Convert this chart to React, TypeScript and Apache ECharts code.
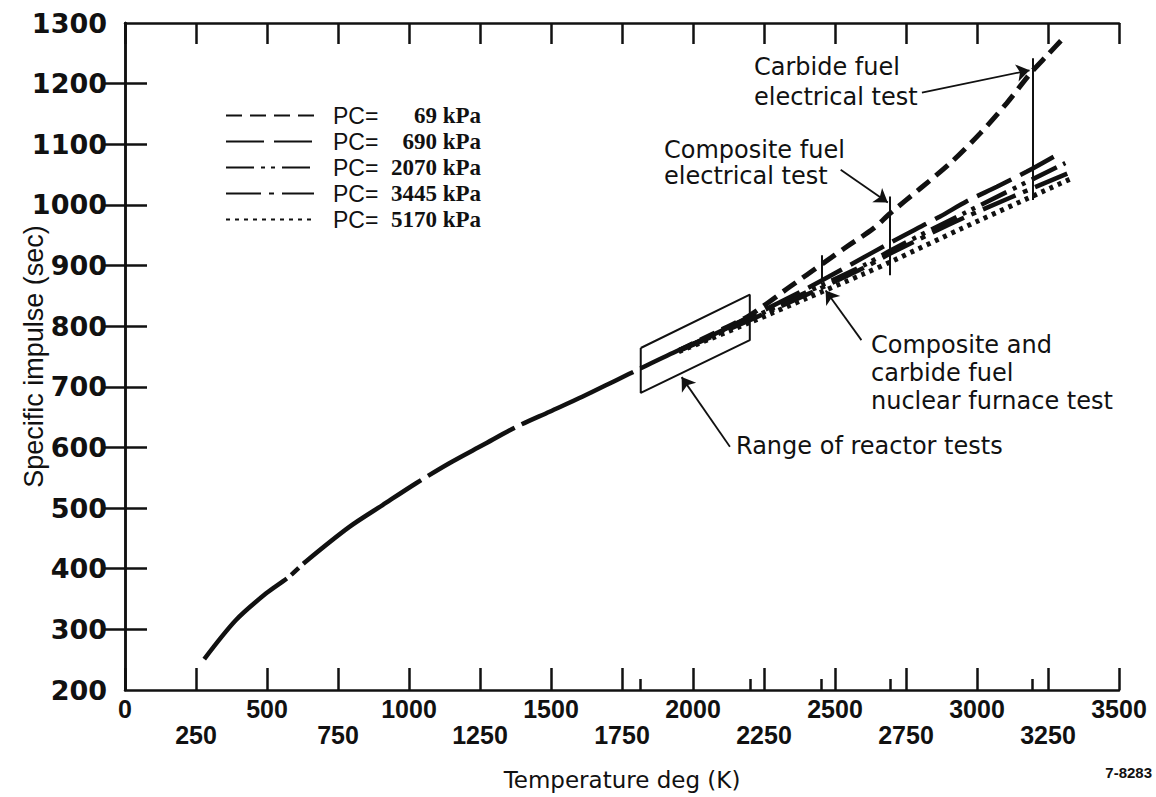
import React, { useEffect, useRef } from "react";
import * as echarts from "echarts";

// ---- axis ranges / ticks ----
const X_MIN = 0;
const X_MAX = 3500;
const X_STEP = 250;
const Y_MIN = 200;
const Y_MAX = 1300;
const Y_STEP = 100;
const yTickValues = [300, 400, 500, 600, 700, 800, 900, 1000, 1100, 1200];
// temperatures of the tests, marked with short ticks on the bottom axis
const testTemps = [1816, 2200, 2453, 2694, 3195];

// ---- data (Temperature K, Specific impulse s) ----
const baseCurve: [number, number][] = [
  [279, 251], [390, 315], [496, 359], [578, 387], [637, 412], [790, 469],
  [907, 505], [1025, 541], [1142, 574], [1260, 604], [1378, 634], [1495, 659],
  [1612, 684], [1730, 711], [1818, 731], [1953, 761], [2059, 783], [2189, 813],
];
const pc69: [number, number][] = [
  [1950, 760], [2100, 794], [2200, 818], [2341, 865], [2459, 904], [2541, 931],
  [2635, 961], [2694, 986], [2800, 1027], [2906, 1069], [3011, 1118],
  [3105, 1168], [3190, 1218], [3250, 1248], [3310, 1278],
];
const pc690: [number, number][] = [
  [1950, 760], [2200, 815], [2400, 862], [2553, 901], [2700, 939],
  [2870, 981], [2964, 1006], [3070, 1030], [3176, 1055], [3287, 1084],
];
const pc2070: [number, number][] = [
  [1950, 760], [2200, 812], [2400, 856], [2600, 900], [2700, 926],
  [2953, 986], [3311, 1069],
];
const pc3445: [number, number][] = [
  [1950, 759], [2200, 810], [2400, 852], [2600, 896], [2700, 921],
  [2950, 978], [3335, 1055],
];
const pc5170: [number, number][] = [
  [1950, 758], [2200, 806], [2400, 846], [2600, 886], [2700, 907],
  [2950, 962], [3335, 1044],
];
const pcNames = ["69", "690", "2070", "3445", "5170"];
const pcData = [pc69, pc690, pc2070, pc3445, pc5170];

// range of reactor tests (parallelogram)
const reactorBox: [number, number][] = [
  [1816, 764], [2200, 852], [2200, 777], [1816, 690], [1816, 764],
];
// vertical test bars [T, Isp low, Isp high]
const testBars: [number, number, number][] = [
  [2453, 876, 917],
  [2694, 884, 1014],
  [3195, 1008, 1242],
];
// arrows: from -> to (data coords)
const arrows: [[number, number], [number, number]][] = [
  [[2806, 1185], [3185, 1222]],
  [[2520, 1058], [2686, 1004]],
  [[2593, 777], [2467, 859]],
  [[2130, 601], [1960, 716]],
];

const dashStyles: any[] = [
  { type: [16, 8], width: 5 },
  { type: [38, 10], width: 4.5 },
  { type: [28, 7, 4, 6, 4, 7], width: 4.5 },
  { type: [35, 8, 5, 8], width: 4.5 },
  { type: [4, 5], width: 5 },
];

const INK = "#111";
const annFont = "'DejaVu Sans', sans-serif";

function buildOption(): any {
  const series: any[] = [];
  series.push({
    name: "base",
    type: "line",
    data: baseCurve,
    symbol: "none",
    smooth: 0.3,
    lineStyle: {
      color: INK,
      width: 4.5,
      type: [116, 6, 10, 6, 145, 8, 99, 8, 123, 8, 3000],
    },
    z: 3,
  });
  pcData.forEach((d, i) => {
    series.push({
      name: pcNames[i],
      type: "line",
      data: d,
      symbol: "none",
      smooth: 0.3,
      lineStyle: { color: INK, width: dashStyles[i].width, type: dashStyles[i].type },
      itemStyle: { color: INK },
      z: 3,
    });
  });
  series.push({
    name: "box",
    type: "line",
    data: reactorBox,
    symbol: "none",
    lineStyle: { color: INK, width: 2 },
    z: 2,
  });
  series.push({
    name: "bars",
    type: "line",
    data: [],
    markLine: {
      silent: true,
      symbol: ["none", "none"],
      animation: false,
      label: { show: false },
      lineStyle: { color: INK, width: 2, type: "solid" },
      data: testBars.map((b) => [{ coord: [b[0], b[1]] }, { coord: [b[0], b[2]] }]),
    },
  });
  series.push({
    name: "arrows",
    type: "line",
    data: [],
    markLine: {
      silent: true,
      symbol: ["none", "arrow"],
      symbolSize: 13,
      animation: false,
      label: { show: false },
      lineStyle: { color: INK, width: 1.8, type: "solid" },
      data: arrows.map((a) => [{ coord: a[0] }, { coord: a[1] }]),
    },
  });

  const axisLine = { show: true, lineStyle: { color: INK, width: 2.5 } };

  return {
    animation: false,
    backgroundColor: "#fff",
    grid: { left: 125, right: 37, top: 23, bottom: 107, containLabel: false, outerBoundsMode: "none" },
    legend: {
      data: pcNames,
      orient: "vertical",
      left: 220,
      top: 99,
      itemWidth: 88,
      itemHeight: 14,
      itemGap: 3,
      selectedMode: false,
      itemStyle: { color: "transparent", borderWidth: 0, opacity: 0 },
      formatter: (name: string) => `{a|PC=}{b|${name} kPa}`,
      textStyle: {
        color: INK,
        rich: {
          a: {
            fontFamily: "'Liberation Sans', Arial, sans-serif",
            fontSize: 23,
            color: INK,
            width: 48,
            padding: [0, 0, 0, 14],
            lineHeight: 24,
          },
          b: {
            fontFamily: "'Liberation Serif', 'Times New Roman', serif",
            fontWeight: "bold",
            fontSize: 23,
            color: INK,
            width: 100,
            align: "right",
            lineHeight: 24,
          },
        },
      },
    },
    xAxis: [
      {
        type: "value",
        position: "bottom",
        min: X_MIN,
        max: X_MAX,
        interval: X_STEP,
        splitLine: { show: false },
        axisLine,
        axisTick: { show: true, inside: true, length: 22, lineStyle: { color: INK, width: 2.5 } },
        axisLabel: {
          margin: 6,
          color: INK,
          fontFamily: "'Liberation Sans', Arial, sans-serif",
          fontWeight: "bold",
          fontSize: 25,
          lineHeight: 26,
          verticalAlign: "top",
          showMinLabel: true,
          showMaxLabel: true,
          formatter: (v: number) => (v % 500 === 0 ? `${v}` : `\n${v}`),
        },
        name: "Temperature deg (K)",
        nameLocation: "middle",
        nameGap: 80,
        nameMoveOverlap: false,
        nameTextStyle: { color: INK, fontFamily: annFont, fontSize: 23, lineHeight: 20 },
      },
      {
        type: "value",
        position: "top",
        min: X_MIN,
        max: X_MAX,
        interval: X_STEP,
        splitLine: { show: false },
        axisLine,
        axisTick: { show: true, inside: true, length: 21, lineStyle: { color: INK, width: 2.5 } },
        axisLabel: { show: false },
      },
      {
        type: "value",
        position: "bottom",
        min: X_MIN,
        max: X_MAX,
        splitLine: { show: false },
        axisLine: { show: false },
        axisTick: {
          show: true,
          inside: true,
          length: 11,
          customValues: testTemps,
          lineStyle: { color: INK, width: 2.5 },
        },
        axisLabel: { show: false },
      },
    ],
    yAxis: [
      {
        type: "value",
        position: "left",
        min: Y_MIN,
        max: Y_MAX,
        interval: Y_STEP,
        splitLine: { show: false },
        axisLine,
        axisTick: {
          show: true,
          inside: true,
          length: 22,
          customValues: yTickValues,
          lineStyle: { color: INK, width: 2.5 },
        },
        axisLabel: {
          margin: 18,
          color: INK,
          fontFamily: "'DejaVu Sans', sans-serif",
          fontWeight: "bold",
          fontSize: 27,
          formatter: (v: number) => `${v}`,
        },
        name: "Specific impulse (sec)",
        nameLocation: "middle",
        nameGap: 78,
        nameMoveOverlap: false,
        nameTextStyle: { color: INK, fontFamily: "'Liberation Sans', Arial, sans-serif", fontSize: 27 },
      },
      {
        type: "value",
        position: "right",
        min: Y_MIN,
        max: Y_MAX,
        interval: Y_STEP,
        splitLine: { show: false },
        axisLine,
        axisTick: {
          show: true,
          inside: true,
          length: 22,
          customValues: yTickValues,
          lineStyle: { color: INK, width: 2.5 },
        },
        axisLabel: { show: false },
      },
    ],
    graphic: [
      {
        type: "text",
        left: 754,
        top: 52,
        style: { text: "Carbide fuel\nelectrical test", fill: INK, font: `24px ${annFont}`, lineHeight: 30 },
      },
      {
        type: "text",
        left: 664,
        top: 137,
        style: { text: "Composite fuel\nelectrical test", fill: INK, font: `24px ${annFont}`, lineHeight: 26 },
      },
      {
        type: "text",
        left: 871,
        top: 331,
        style: {
          text: "Composite and\ncarbide fuel\nnuclear furnace test",
          fill: INK,
          font: `24px ${annFont}`,
          lineHeight: 28,
        },
      },
      {
        type: "text",
        left: 736,
        top: 432,
        style: { text: "Range of reactor tests", fill: INK, font: `24px ${annFont}`, lineHeight: 28 },
      },
      {
        type: "text",
        right: 4,
        top: 765,
        style: { text: "7-8283", fill: INK, font: "bold 15px 'Liberation Sans', Arial, sans-serif" },
      },
    ],
    series: series.map((s) => ({ xAxisIndex: 0, yAxisIndex: 0, ...s })),
  };
}

export default function App() {
  const ref = useRef<HTMLDivElement>(null);
  useEffect(() => {
    document.body.style.margin = "0";
    const chart = echarts.init(ref.current!, null, { renderer: "svg" });
    chart.setOption(buildOption());
    return () => chart.dispose();
  }, []);
  return <div ref={ref} style={{ width: 1156, height: 797, background: "#fff" }} />;
}
